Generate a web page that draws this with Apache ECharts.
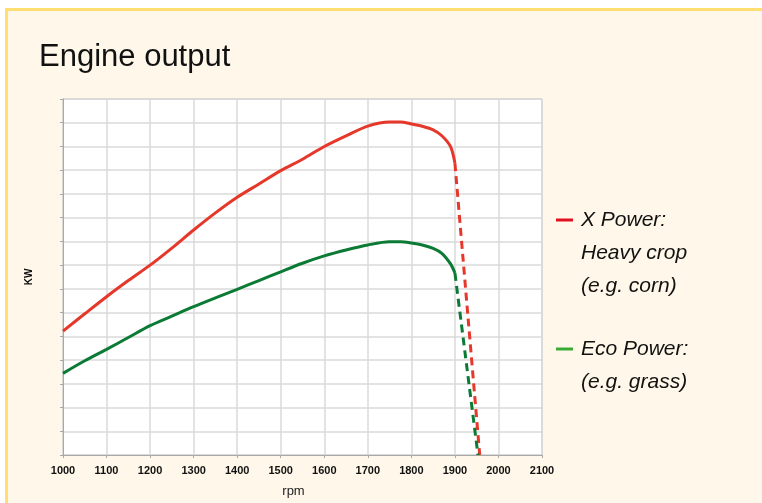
<!DOCTYPE html>
<html>
<head>
<meta charset="utf-8">
<script src="https://cdn.jsdelivr.net/npm/echarts@6/dist/echarts.min.js"></script>
<style>
    html, body { margin: 0; padding: 0; background: #fff; }
    #chart1 { width: 762px; height: 503px; }
</style>
</head>
<body>
<div id="chart1"></div>
<script>
    // rpm steps for the solid part of both curves
    var rpm = [1000, 1050, 1100, 1150, 1200, 1250, 1300, 1350, 1400, 1450, 1500, 1550, 1600, 1650, 1700, 1750, 1775, 1800, 1825, 1850, 1870, 1890, 1900];
    var xPower = [5.22, 5.95, 6.67, 7.35, 8.0, 8.72, 9.48, 10.2, 10.86, 11.42, 11.98, 12.46, 13.0, 13.45, 13.86, 14.03, 14.03, 13.95, 13.85, 13.7, 13.45, 12.99, 12.3];
    var ecoPower = [3.44, 3.97, 4.45, 4.95, 5.45, 5.85, 6.25, 6.62, 6.98, 7.35, 7.72, 8.08, 8.39, 8.64, 8.85, 8.98, 8.98, 8.93, 8.85, 8.71, 8.5, 8.05, 7.67];
    // cut-off (dashed) part
    var xPowerDrop = [[1900, 12.3], [1957, 0]];
    var ecoPowerDrop = [[1900, 7.67], [1953, 0]];
    var xTicks = ['1000', '1100', '1200', '1300', '1400', '1500', '1600', '1700', '1800', '1900', '2000', '2100'];

    function pairs(xs, ys) {
        var out = [];
        for (var i = 0; i < xs.length; i++) {
            out.push([xs[i], ys[i]]);
        }
        return out;
    }

    var red = '#e5372a';
    var green = '#0b7a35';
    var font = '"Liberation Sans", Arial, Helvetica, sans-serif';

    var option = {
        backgroundColor: '#fff',
        animation: false,
        textStyle: { fontFamily: font },
        title: {
            text: 'Engine output',
            left: 34,
            top: 37,
            textStyle: { fontSize: 31, fontWeight: 'normal', color: '#111', fontFamily: font }
        },
        grid: {
            left: 63,
            top: 99,
            right: 220,
            bottom: 48,
            show: true,
            backgroundColor: '#fff',
            borderColor: '#b4b4b4',
            borderWidth: 1
        },
        xAxis: {
            type: 'value',
            min: 1000,
            max: 2100,
            interval: 100,
            name: 'rpm',
            nameLocation: 'middle',
            nameGap: 30,
            nameTextStyle: { fontSize: 13, color: '#222', padding: [0, 18, 0, 0] },
            axisLine: { lineStyle: { color: '#a8a8a8', width: 1 } },
            axisTick: { show: true, length: 3, lineStyle: { color: '#a8a8a8' } },
            axisLabel: {
                fontSize: 11,
                fontWeight: 'bold',
                color: '#111',
                margin: 10,
                formatter: function (v) {
                    return xTicks[Math.round((v - 1000) / 100)];
                }
            },
            splitLine: { show: true, lineStyle: { color: '#dadada', width: 1.5 } }
        },
        yAxis: {
            type: 'value',
            min: 0,
            max: 15,
            interval: 1,
            name: 'KW',
            nameLocation: 'middle',
            nameGap: 29,
            nameTextStyle: { fontSize: 10, fontWeight: 'bold', color: '#111' },
            axisLine: { show: true, lineStyle: { color: '#a8a8a8', width: 1 } },
            axisTick: { show: true, length: 3, lineStyle: { color: '#a8a8a8' } },
            axisLabel: { show: false },
            splitLine: { show: true, lineStyle: { color: '#dadada', width: 1.5 } }
        },
        series: [
            {
                name: 'X Power',
                type: 'line',
                data: pairs(rpm, xPower),
                smooth: 0.3,
                showSymbol: false,
                lineStyle: { color: red, width: 3 }
            },
            {
                name: 'X Power drop',
                type: 'line',
                data: xPowerDrop,
                showSymbol: false,
                lineStyle: { color: red, width: 3, type: [8, 5] }
            },
            {
                name: 'Eco Power',
                type: 'line',
                data: pairs(rpm, ecoPower),
                smooth: 0.3,
                showSymbol: false,
                lineStyle: { color: green, width: 3 }
            },
            {
                name: 'Eco Power drop',
                type: 'line',
                data: ecoPowerDrop,
                showSymbol: false,
                lineStyle: { color: green, width: 3, type: [8, 5] }
            }
        ],
        graphic: [
            {
                type: 'rect',
                z: -10,
                silent: true,
                shape: { x: 6.5, y: 9.5, width: 800, height: 600 },
                style: { fill: '#fff8ea', stroke: '#ffdf72', lineWidth: 3 }
            },
            {
                type: 'line',
                shape: { x1: 556, y1: 220, x2: 573, y2: 220 },
                style: { stroke: '#e0101e', lineWidth: 3 }
            },
            {
                type: 'text',
                x: 581,
                y: 204,
                style: {
                    text: 'X Power:\nHeavy crop\n(e.g. corn)',
                    font: 'italic 21px ' + font,
                    lineHeight: 33,
                    fill: '#111'
                }
            },
            {
                type: 'line',
                shape: { x1: 556, y1: 349, x2: 573, y2: 349 },
                style: { stroke: '#3aaa35', lineWidth: 3 }
            },
            {
                type: 'text',
                x: 581,
                y: 333,
                style: {
                    text: 'Eco Power:\n(e.g. grass)',
                    font: 'italic 21px ' + font,
                    lineHeight: 33,
                    fill: '#111'
                }
            }
        ]
    };

    var myChart = echarts.init(document.getElementById('chart1'));
    myChart.setOption(option);
</script>
</body>
</html>
